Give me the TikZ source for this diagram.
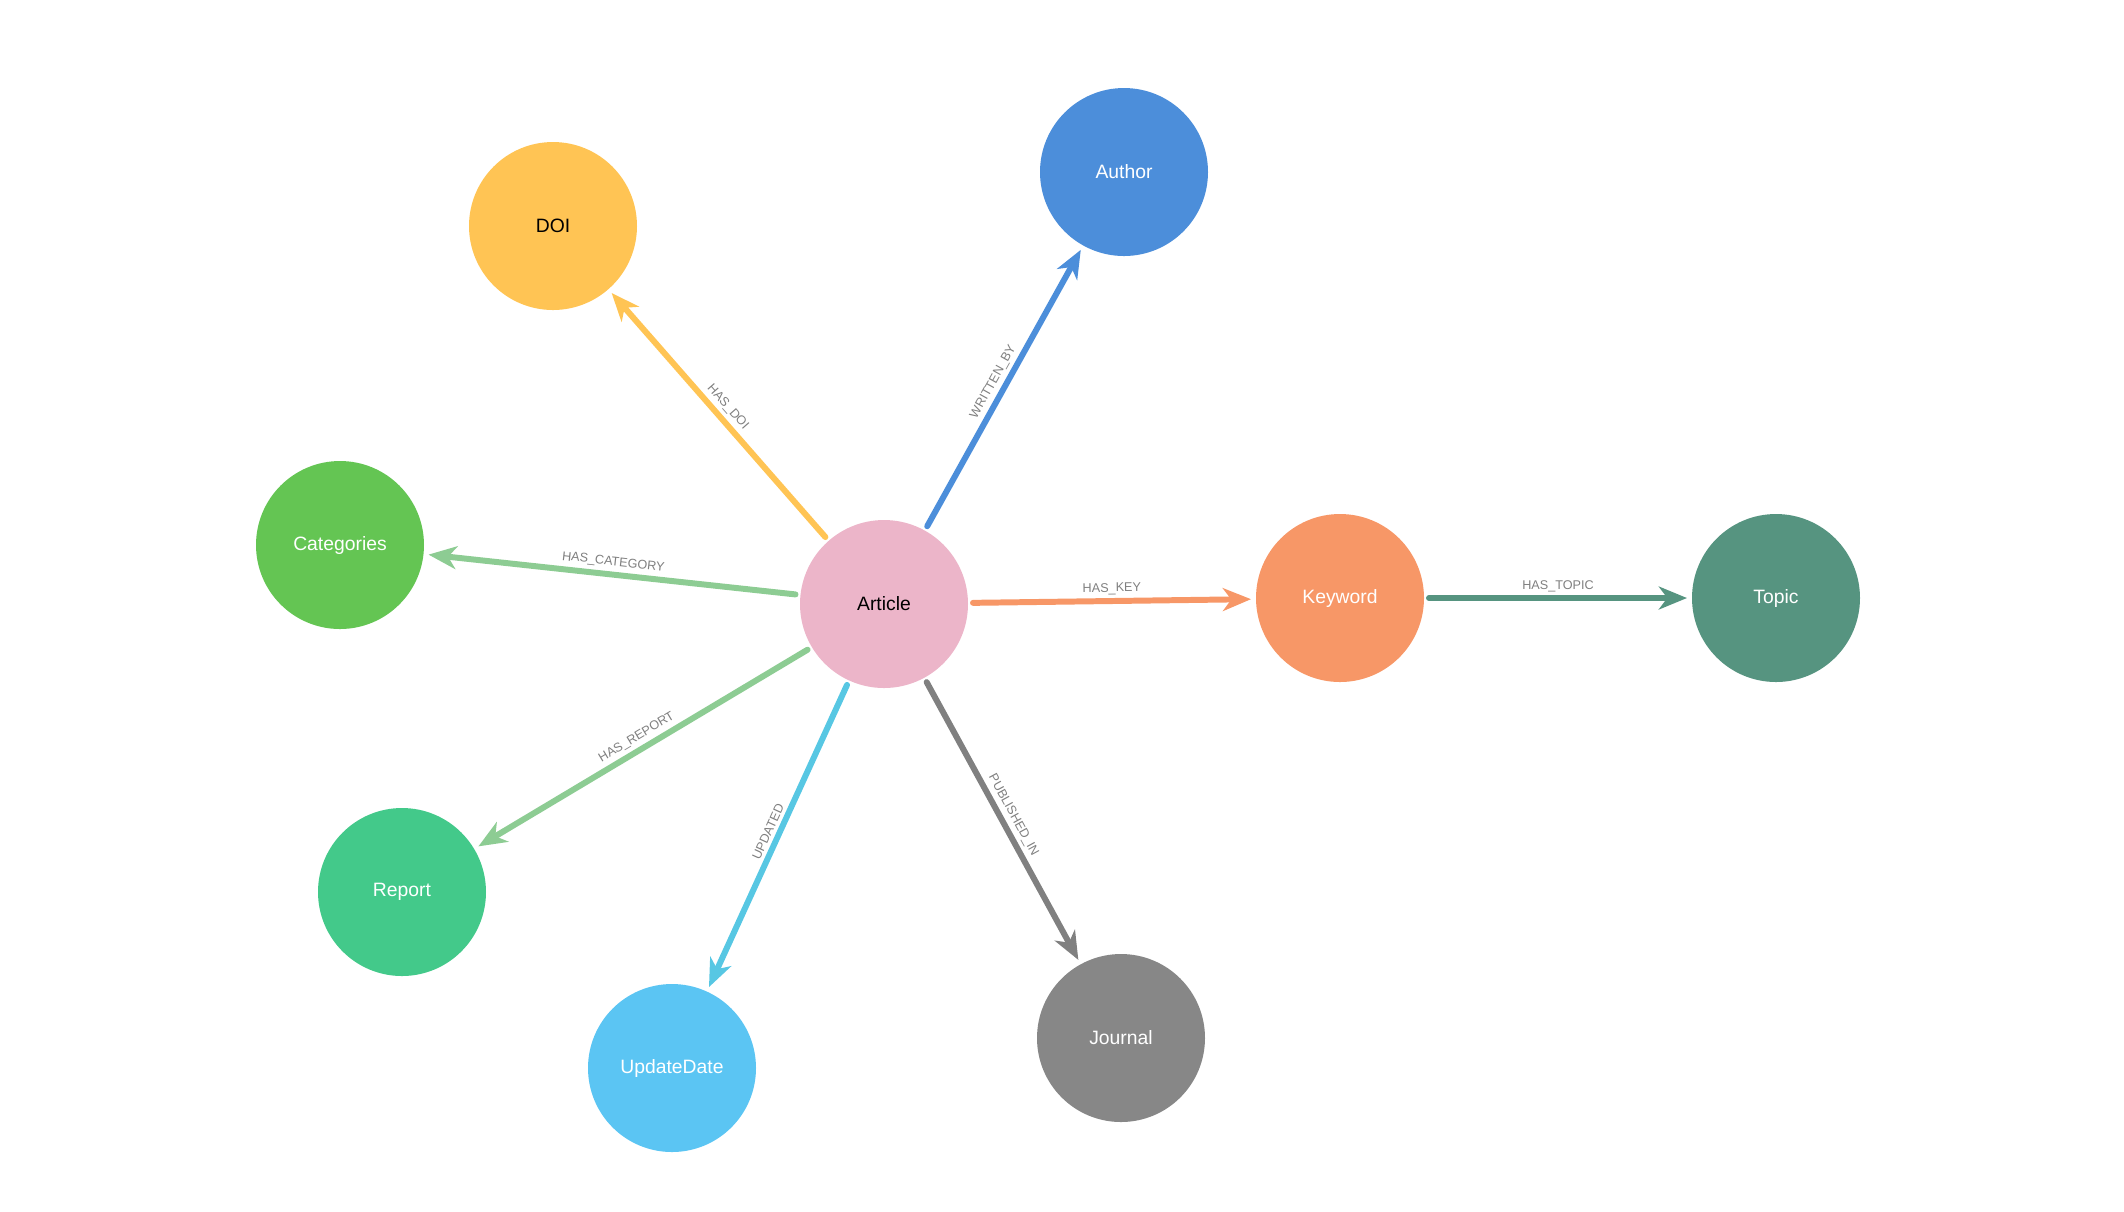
\documentclass[tikz,border=0pt]{standalone}
\usepackage{fontspec}
\setmainfont{Liberation Sans}
\usetikzlibrary{arrows.meta}
\definecolor{cArt}{HTML}{ECB5C9}
\definecolor{cDoi}{HTML}{FFC454}
\definecolor{cAuth}{HTML}{4C8EDA}
\definecolor{cCat}{HTML}{64C553}
\definecolor{cKey}{HTML}{F79767}
\definecolor{cTop}{HTML}{569480}
\definecolor{cRep}{HTML}{43C98A}
\definecolor{cUpd}{HTML}{5BC5F3}
\definecolor{cJour}{HTML}{878787}
\definecolor{eGreen}{HTML}{8DCC93}
\definecolor{eCyan}{HTML}{57C7E3}
\definecolor{eGrey}{HTML}{808080}
\definecolor{cLbl}{HTML}{7F7F7F}
\begin{document}
\begin{tikzpicture}[
    ent/.style={shape=circle,minimum size=1.68cm,inner sep=0pt,outer sep=0.05cm,text=white,font=\fontsize{5.5}{6}\selectfont},
    rel/.style={line width=1.7pt,line cap=round,-{Stealth[length=8pt,width=6.5pt,inset=2.4pt]}},
    lbl/.style={midway,sloped,above=1pt,inner sep=0pt,text=cLbl,font=\fontsize{3.6}{4}\selectfont}]
        \useasboundingbox (0,0) rectangle (21.24,-12.11);
        \node[ent,fill=cArt,text=black] (Art) at (8.84,-6.04) {Article};
        \node[ent,fill=cDoi,text=black] (DOI) at (5.53,-2.26) {DOI};
        \node[ent,fill=cAuth] (Auth) at (11.24,-1.72) {Author};
        \node[ent,fill=cCat] (Cat) at (3.40,-5.45) {Categories};
        \node[ent,fill=cKey] (Key) at (13.40,-5.98) {Keyword};
        \node[ent,fill=cTop] (Top) at (17.76,-5.98) {Topic};
        \node[ent,fill=cRep] (Rep) at (4.02,-8.92) {Report};
        \node[ent,fill=cUpd] (Upd) at (6.72,-10.68) {UpdateDate};
        \node[ent,fill=cJour] (Jour) at (11.21,-10.38) {Journal};
        \path[rel](Art) edge[cDoi] node[lbl] {HAS\_DOI} (DOI);
        \path[rel](Art) edge[cAuth] node[lbl] {WRITTEN\_BY} (Auth);
        \path[rel](Art) edge[eGreen] node[lbl] {HAS\_CATEGORY} (Cat);
        \path[rel](Art) edge[cKey] node[lbl] {HAS\_KEY} (Key);
        \path[rel](Key) edge[cTop] node[lbl] {HAS\_TOPIC} (Top);
        \path[rel](Art) edge[eGreen] node[lbl] {HAS\_REPORT} (Rep);
        \path[rel](Art) edge[eCyan] node[lbl] {UPDATED} (Upd);
        \path[rel](Art) edge[eGrey] node[lbl] {PUBLISHED\_IN} (Jour);
    \end{tikzpicture}
\end{document}
